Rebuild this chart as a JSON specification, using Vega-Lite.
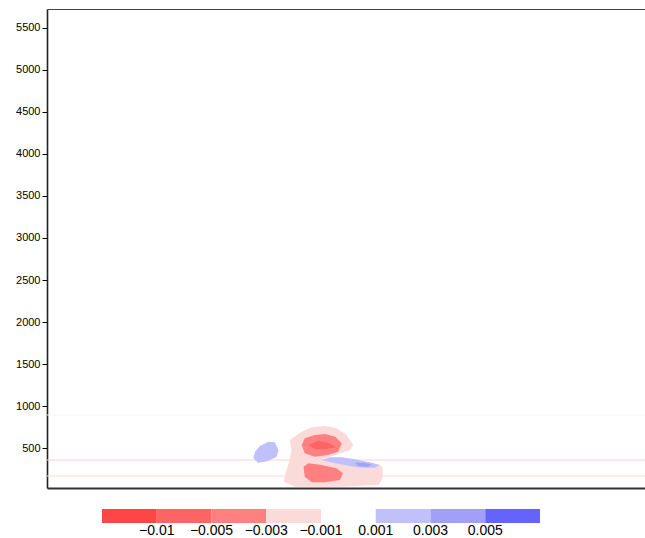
{
  "$schema": "https://vega.github.io/schema/vega-lite/v6.json",
  "width": 598,
  "height": 479,
  "autosize": "none",
  "padding": {"left": 47, "top": 9, "right": 0, "bottom": 50},
  "background": "white",
  "config": {
    "view": {"stroke": null},
    "font": "Liberation Sans",
    "axis": {"labelFont": "Liberation Sans", "labelColor": "#000000", "grid": false},
    "legend": {"gradientHorizontalMaxLength": 600, "gradientHorizontalMinLength": 100}
  },
  "datasets": {
    "polys": [
      {"poly": "pink", "level": -0.002, "cls": 3, "i": 1, "x": 40.6, "y": 596},
      {"poly": "pink", "level": -0.002, "cls": 3, "i": 2, "x": 42.6, "y": 695},
      {"poly": "pink", "level": -0.002, "cls": 3, "i": 3, "x": 44.3, "y": 747},
      {"poly": "pink", "level": -0.002, "cls": 3, "i": 4, "x": 46.5, "y": 763},
      {"poly": "pink", "level": -0.002, "cls": 3, "i": 5, "x": 48.4, "y": 735},
      {"poly": "pink", "level": -0.002, "cls": 3, "i": 6, "x": 50.1, "y": 656},
      {"poly": "pink", "level": -0.002, "cls": 3, "i": 7, "x": 51.2, "y": 537},
      {"poly": "pink", "level": -0.002, "cls": 3, "i": 8, "x": 50.7, "y": 477},
      {"poly": "pink", "level": -0.002, "cls": 3, "i": 9, "x": 48.2, "y": 418},
      {"poly": "pink", "level": -0.002, "cls": 3, "i": 10, "x": 45.9, "y": 367},
      {"poly": "pink", "level": -0.002, "cls": 3, "i": 11, "x": 49.3, "y": 382},
      {"poly": "pink", "level": -0.002, "cls": 3, "i": 12, "x": 52.6, "y": 346},
      {"poly": "pink", "level": -0.002, "cls": 3, "i": 13, "x": 56.0, "y": 287},
      {"poly": "pink", "level": -0.002, "cls": 3, "i": 14, "x": 56.2, "y": 180},
      {"poly": "pink", "level": -0.002, "cls": 3, "i": 15, "x": 56.0, "y": 120},
      {"poly": "pink", "level": -0.002, "cls": 3, "i": 16, "x": 55.4, "y": 61},
      {"poly": "pink", "level": -0.002, "cls": 3, "i": 17, "x": 49.3, "y": 40},
      {"poly": "pink", "level": -0.002, "cls": 3, "i": 18, "x": 41.5, "y": 40},
      {"poly": "pink", "level": -0.002, "cls": 3, "i": 19, "x": 39.6, "y": 100},
      {"poly": "pink", "level": -0.002, "cls": 3, "i": 20, "x": 39.9, "y": 200},
      {"poly": "pink", "level": -0.002, "cls": 3, "i": 21, "x": 40.4, "y": 319},
      {"poly": "pink", "level": -0.002, "cls": 3, "i": 22, "x": 40.9, "y": 477},

      {"poly": "upper", "level": -0.004, "cls": 2, "i": 1, "x": 42.6, "y": 537},
      {"poly": "upper", "level": -0.004, "cls": 2, "i": 2, "x": 43.1, "y": 616},
      {"poly": "upper", "level": -0.004, "cls": 2, "i": 3, "x": 44.8, "y": 656},
      {"poly": "upper", "level": -0.004, "cls": 2, "i": 4, "x": 46.5, "y": 668},
      {"poly": "upper", "level": -0.004, "cls": 2, "i": 5, "x": 48.2, "y": 635},
      {"poly": "upper", "level": -0.004, "cls": 2, "i": 6, "x": 49.3, "y": 557},
      {"poly": "upper", "level": -0.004, "cls": 2, "i": 7, "x": 48.7, "y": 457},
      {"poly": "upper", "level": -0.004, "cls": 2, "i": 8, "x": 47.0, "y": 418},
      {"poly": "upper", "level": -0.004, "cls": 2, "i": 9, "x": 44.8, "y": 397},
      {"poly": "upper", "level": -0.004, "cls": 2, "i": 10, "x": 43.1, "y": 438},

      {"poly": "lower", "level": -0.004, "cls": 2, "i": 1, "x": 42.9, "y": 278},
      {"poly": "lower", "level": -0.004, "cls": 2, "i": 2, "x": 43.7, "y": 319},
      {"poly": "lower", "level": -0.004, "cls": 2, "i": 3, "x": 45.9, "y": 299},
      {"poly": "lower", "level": -0.004, "cls": 2, "i": 4, "x": 48.4, "y": 259},
      {"poly": "lower", "level": -0.004, "cls": 2, "i": 5, "x": 49.5, "y": 200},
      {"poly": "lower", "level": -0.004, "cls": 2, "i": 6, "x": 49.0, "y": 120},
      {"poly": "lower", "level": -0.004, "cls": 2, "i": 7, "x": 46.5, "y": 93},
      {"poly": "lower", "level": -0.004, "cls": 2, "i": 8, "x": 44.3, "y": 93},
      {"poly": "lower", "level": -0.004, "cls": 2, "i": 9, "x": 43.1, "y": 160},

      {"poly": "core", "level": -0.007, "cls": 1, "i": 1, "x": 43.7, "y": 537},
      {"poly": "core", "level": -0.007, "cls": 1, "i": 2, "x": 45.4, "y": 588},
      {"poly": "core", "level": -0.007, "cls": 1, "i": 3, "x": 47.0, "y": 564},
      {"poly": "core", "level": -0.007, "cls": 1, "i": 4, "x": 48.4, "y": 509},
      {"poly": "core", "level": -0.007, "cls": 1, "i": 5, "x": 46.5, "y": 486},
      {"poly": "core", "level": -0.007, "cls": 1, "i": 6, "x": 44.8, "y": 486},

      {"poly": "blueR", "level": 0.002, "cls": 5, "i": 1, "x": 45.9, "y": 358},
      {"poly": "blueR", "level": 0.002, "cls": 5, "i": 2, "x": 47.3, "y": 390},
      {"poly": "blueR", "level": 0.002, "cls": 5, "i": 3, "x": 49.3, "y": 390},
      {"poly": "blueR", "level": 0.002, "cls": 5, "i": 4, "x": 51.5, "y": 367},
      {"poly": "blueR", "level": 0.002, "cls": 5, "i": 5, "x": 54.3, "y": 326},
      {"poly": "blueR", "level": 0.002, "cls": 5, "i": 6, "x": 55.7, "y": 299},
      {"poly": "blueR", "level": 0.002, "cls": 5, "i": 7, "x": 54.8, "y": 267},
      {"poly": "blueR", "level": 0.002, "cls": 5, "i": 8, "x": 52.6, "y": 267},
      {"poly": "blueR", "level": 0.002, "cls": 5, "i": 9, "x": 50.4, "y": 290},
      {"poly": "blueR", "level": 0.002, "cls": 5, "i": 10, "x": 48.2, "y": 319},

      {"poly": "blueL", "level": 0.002, "cls": 5, "i": 1, "x": 34.5, "y": 378},
      {"poly": "blueL", "level": 0.002, "cls": 5, "i": 2, "x": 34.8, "y": 457},
      {"poly": "blueL", "level": 0.002, "cls": 5, "i": 3, "x": 35.6, "y": 525},
      {"poly": "blueL", "level": 0.002, "cls": 5, "i": 4, "x": 37.0, "y": 576},
      {"poly": "blueL", "level": 0.002, "cls": 5, "i": 5, "x": 38.1, "y": 569},
      {"poly": "blueL", "level": 0.002, "cls": 5, "i": 6, "x": 38.7, "y": 477},
      {"poly": "blueL", "level": 0.002, "cls": 5, "i": 7, "x": 38.4, "y": 397},
      {"poly": "blueL", "level": 0.002, "cls": 5, "i": 8, "x": 37.0, "y": 346},
      {"poly": "blueL", "level": 0.002, "cls": 5, "i": 9, "x": 35.3, "y": 326},

      {"poly": "blueRcore", "level": 0.004, "cls": 6, "i": 1, "x": 51.5, "y": 326},
      {"poly": "blueRcore", "level": 0.004, "cls": 6, "i": 2, "x": 52.9, "y": 326},
      {"poly": "blueRcore", "level": 0.004, "cls": 6, "i": 3, "x": 54.3, "y": 307},
      {"poly": "blueRcore", "level": 0.004, "cls": 6, "i": 4, "x": 53.7, "y": 278},
      {"poly": "blueRcore", "level": 0.004, "cls": 6, "i": 5, "x": 52.1, "y": 287}
    ],
    "lines": [
      {"y": 894, "color": "#FFF3F3"},
      {"y": 358, "color": "#FFD2D2"},
      {"y": 168, "color": "#FFD9D9"}
    ]
  },
  "layer": [
    {
      "data": {"name": "lines"},
      "mark": {"type": "rule", "strokeWidth": 1},
      "encoding": {
        "y": {
          "field": "y", "type": "quantitative",
          "scale": {"domain": [25, 5725], "nice": false, "zero": false},
          "axis": {"title": null, "format": "d", "values": [500, 1000, 1500, 2000, 2500, 3000, 3500, 4000, 4500, 5000, 5500], "labelFontSize": 11, "tickSize": 5, "tickColor": "#000000", "tickWidth": 1, "domainColor": "#222222", "domainWidth": 1.6, "labelPadding": 2}
        },
        "color": {"field": "color", "type": "nominal", "scale": null, "legend": null}
      }
    },
    {
      "data": {"name": "polys"},
      "encoding": {
        "x": {"field": "x", "type": "quantitative", "scale": {"domain": [0, 100], "nice": false, "zero": false}, "axis": {"orient": "bottom", "labels": false, "ticks": false, "title": null, "domainColor": "#333333", "domainWidth": 2}},
        "y": {"field": "y", "type": "quantitative", "scale": {"domain": [25, 5725], "nice": false, "zero": false}},
        "order": {"field": "i", "type": "quantitative"},
        "detail": {"field": "poly", "type": "nominal"},
        "fill": {
          "field": "cls",
          "type": "quantitative",
          "scale": {
            "type": "threshold",
            "domain": [1, 2, 3, 4, 5, 6, 7],
            "range": ["#FF4646", "#FF6464", "#FF8080", "#FBDADA", "#FFFFFF", "#C0C0FA", "#A0A0F8", "#6464FC"]
          },
          "legend": {
            "type": "gradient",
            "title": null,
            "orient": "none",
            "direction": "horizontal",
            "legendX": 55,
            "legendY": 500,
            "padding": 0,
            "gradientLength": 438,
            "gradientThickness": 14,
            "gradientStrokeWidth": 0,
            "labelOverlap": false,
            "labelExpr": "['\u22120.01','\u22120.005','\u22120.003','\u22120.001','0.001','0.003','0.005'][datum.value - 1]",
            "labelFont": "Liberation Sans",
            "labelFontSize": 14,
            "labelColor": "#000000",
            "labelOffset": 1
          }
        }
      },
      "layer": [
        {"transform": [{"filter": "datum.poly === 'pink'"}], "mark": {"type": "line", "interpolate": "linear-closed", "strokeWidth": 0}},
        {"transform": [{"filter": "datum.poly === 'upper' || datum.poly === 'lower'"}], "mark": {"type": "line", "interpolate": "linear-closed", "strokeWidth": 0}},
        {"transform": [{"filter": "datum.poly === 'core'"}], "mark": {"type": "line", "interpolate": "linear-closed", "strokeWidth": 0}},
        {"transform": [{"filter": "datum.poly === 'blueR' || datum.poly === 'blueL'"}], "mark": {"type": "line", "interpolate": "linear-closed", "strokeWidth": 0}},
        {"transform": [{"filter": "datum.poly === 'blueRcore'"}], "mark": {"type": "line", "interpolate": "linear-closed", "strokeWidth": 0}}
      ]
    },
    {
      "data": {"values": [{}]},
      "mark": {"type": "rule", "opacity": 0},
      "encoding": {
        "x": {"datum": 0, "type": "quantitative", "axis": {"orient": "top", "labels": false, "ticks": false, "domainColor": "#444444", "domainWidth": 1.2, "title": null}},
        "x2": {"datum": 0}
      }
    }
  ],
  "resolve": {"axis": {"x": "independent"}}
}
